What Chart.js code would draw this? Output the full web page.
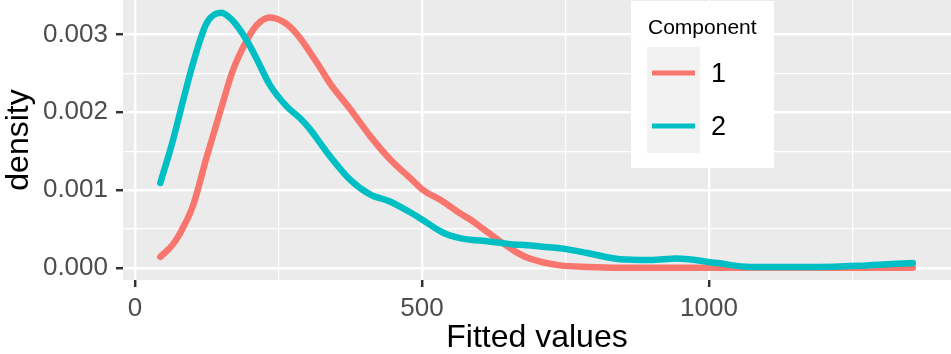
<!DOCTYPE html>
<html>
<head>
<meta charset="utf-8">
<script src="https://cdn.jsdelivr.net/npm/chart.js@4.4.1/dist/chart.umd.min.js"></script>
<style>
  html, body { margin: 0; padding: 0; background: #ffffff; }
  #wrap { width: 951px; height: 354px; }
</style>
</head>
<body>
<div id="wrap"><canvas id="c" width="951" height="354"></canvas></div>
<script>
// ---- data ----
const fittedValues = [44, 66, 84, 101, 125, 150, 170, 195, 213, 235, 265, 288, 305, 322, 340, 375, 410, 445, 480, 500, 537, 566, 584, 601, 636, 660, 683, 710, 740, 788, 845, 897, 944, 1014, 1071, 1188, 1275, 1355];
const component1 = [0.00014, 0.00030, 0.00052, 0.00080, 0.00143, 0.00205, 0.00253, 0.00293, 0.00313, 0.00322, 0.00313, 0.00295, 0.00277, 0.00258, 0.00237, 0.00204, 0.00169, 0.00139, 0.00115, 0.00101, 0.00085, 0.00070, 0.00062, 0.00053, 0.00034, 0.00022, 0.00013, 0.00007, 0.00003, 0.00001, 0, 0, 0, 0, 0, 0, 0, 0];
const component2 = [0.00109, 0.00164, 0.00216, 0.00263, 0.00315, 0.00328, 0.00318, 0.00292, 0.00267, 0.00235, 0.00207, 0.00192, 0.00178, 0.00161, 0.00143, 0.00113, 0.00094, 0.00085, 0.00071, 0.00062, 0.00045, 0.00038, 0.00036, 0.00035, 0.00032, 0.00030, 0.00029, 0.00027, 0.00025, 0.00019, 0.00011, 0.00010, 0.00012, 0.00006, 0.00001, 0.00001, 0.00003, 0.00006];
const seriesLabels = ['1', '2'];
const legendTitle = 'Component';
const xTickValues = [0, 250, 500, 750, 1000, 1250];
const xTickLabels = ['0', '', '500', '', '1000', ''];
const yTickValues = [0, 0.0005, 0.001, 0.0015, 0.002, 0.0025, 0.003];
const yTickLabels = ['0.000', '', '0.001', '', '0.002', '', '0.003'];
const xTitle = 'Fitted values';
const yTitle = 'density';

const FONT = "'Liberation Sans', Arial, Helvetica, sans-serif";
const colors = ['#F8766D', '#00BFC4'];

const panelBg = {
  id: 'panelBg',
  beforeDraw(chart) {
    const {ctx, chartArea: a} = chart;
    ctx.save();
    ctx.fillStyle = '#ffffff';
    ctx.fillRect(0, 0, chart.width, chart.height);
    ctx.fillStyle = '#EBEBEB';
    ctx.fillRect(a.left, a.top, a.right - a.left, a.bottom - a.top);
    ctx.restore();
  }
};

const ggLegend = {
  id: 'ggLegend',
  afterDraw(chart) {
    const ctx = chart.ctx;
    ctx.save();
    ctx.fillStyle = '#ffffff';
    ctx.fillRect(631, 1, 143, 167);
    ctx.fillStyle = '#F2F2F2';
    ctx.fillRect(647, 47, 53, 106);
    ctx.fillStyle = '#000000';
    ctx.textBaseline = 'alphabetic';
    ctx.textAlign = 'left';
    ctx.font = '21px ' + FONT;
    ctx.fillText(legendTitle, 648, 34);
    const ys = [73, 126];
    chart.data.datasets.forEach((ds, i) => {
      ctx.strokeStyle = ds.borderColor;
      ctx.lineWidth = 5;
      ctx.lineCap = 'butt';
      ctx.beginPath();
      ctx.moveTo(652, ys[i]);
      ctx.lineTo(695, ys[i]);
      ctx.stroke();
      ctx.fillStyle = '#000000';
      ctx.font = '27px ' + FONT;
      ctx.textBaseline = 'middle';
      ctx.fillText(ds.label, 711, ys[i] + 2);
    });
    ctx.restore();
  }
};

function gridWidth(ctx, majorW, minorW, labels) {
  return labels[ctx.index] === '' ? minorW : majorW;
}

new Chart(document.getElementById('c'), {
  type: 'line',
  data: {
    datasets: [
      {
        label: seriesLabels[0],
        data: fittedValues.map((x, i) => ({x: x, y: component1[i]})),
        borderColor: colors[0],
        borderWidth: 6.5,
        pointRadius: 0,
        fill: false,
        cubicInterpolationMode: 'monotone',
        borderCapStyle: 'round',
        borderJoinStyle: 'round',
        order: 1
      },
      {
        label: seriesLabels[1],
        data: fittedValues.map((x, i) => ({x: x, y: component2[i]})),
        borderColor: colors[1],
        borderWidth: 6.5,
        pointRadius: 0,
        fill: false,
        cubicInterpolationMode: 'monotone',
        borderCapStyle: 'round',
        borderJoinStyle: 'round',
        order: 0
      }
    ]
  },
  options: {
    responsive: false,
    animation: false,
    devicePixelRatio: 1,
    layout: { padding: { left: 0, right: 0, top: 0, bottom: 0 } },
    plugins: {
      legend: { display: false },
      tooltip: { enabled: false }
    },
    scales: {
      x: {
        type: 'linear',
        min: -21,
        max: 1421.6,
        afterBuildTicks(scale) { scale.ticks = xTickValues.map(v => ({value: v})); },
        afterFit(scale) {
          scale.height = 74;
          scale.paddingLeft = 0; scale.paddingRight = 0;
          scale.paddingTop = 0; scale.paddingBottom = 0;
        },
        border: { display: false },
        grid: {
          color: '#ffffff',
          lineWidth: (c) => gridWidth(c, 2.4, 1.2, xTickLabels),
          drawTicks: true,
          tickLength: 7,
          tickWidth: 2.5,
          tickColor: (c) => xTickLabels[c.index] === '' ? 'rgba(0,0,0,0)' : '#333333'
        },
        ticks: {
          autoSkip: false,
          maxRotation: 0,
          padding: 6,
          color: '#4D4D4D',
          font: { family: FONT, size: 26 },
          callback: (v, i) => xTickLabels[i]
        },
        title: {
          display: true,
          text: xTitle,
          color: '#000000',
          font: { family: FONT, size: 32, lineHeight: 1.0 },
          padding: { top: 0, bottom: 0 }
        }
      },
      y: {
        type: 'linear',
        min: -0.000158,
        max: 0.003445,
        afterBuildTicks(scale) { scale.ticks = yTickValues.map(v => ({value: v})); },
        afterFit(scale) {
          scale.width = 123;
          scale.paddingLeft = 0; scale.paddingRight = 0;
          scale.paddingTop = 0; scale.paddingBottom = 0;
        },
        border: { display: false },
        grid: {
          color: '#ffffff',
          lineWidth: (c) => gridWidth(c, 2.4, 1.2, yTickLabels),
          drawTicks: true,
          tickLength: 7,
          tickWidth: 2.5,
          tickColor: (c) => yTickLabels[c.index] === '' ? 'rgba(0,0,0,0)' : '#333333'
        },
        ticks: {
          autoSkip: false,
          padding: 8,
          color: '#4D4D4D',
          font: { family: FONT, size: 26 },
          callback: (v, i) => yTickLabels[i]
        },
        title: {
          display: true,
          text: yTitle,
          color: '#000000',
          font: { family: FONT, size: 32, lineHeight: 1.0 },
          padding: { top: 3, bottom: 0 }
        }
      }
    }
  },
  plugins: [panelBg, ggLegend]
});
</script>
</body>
</html>
